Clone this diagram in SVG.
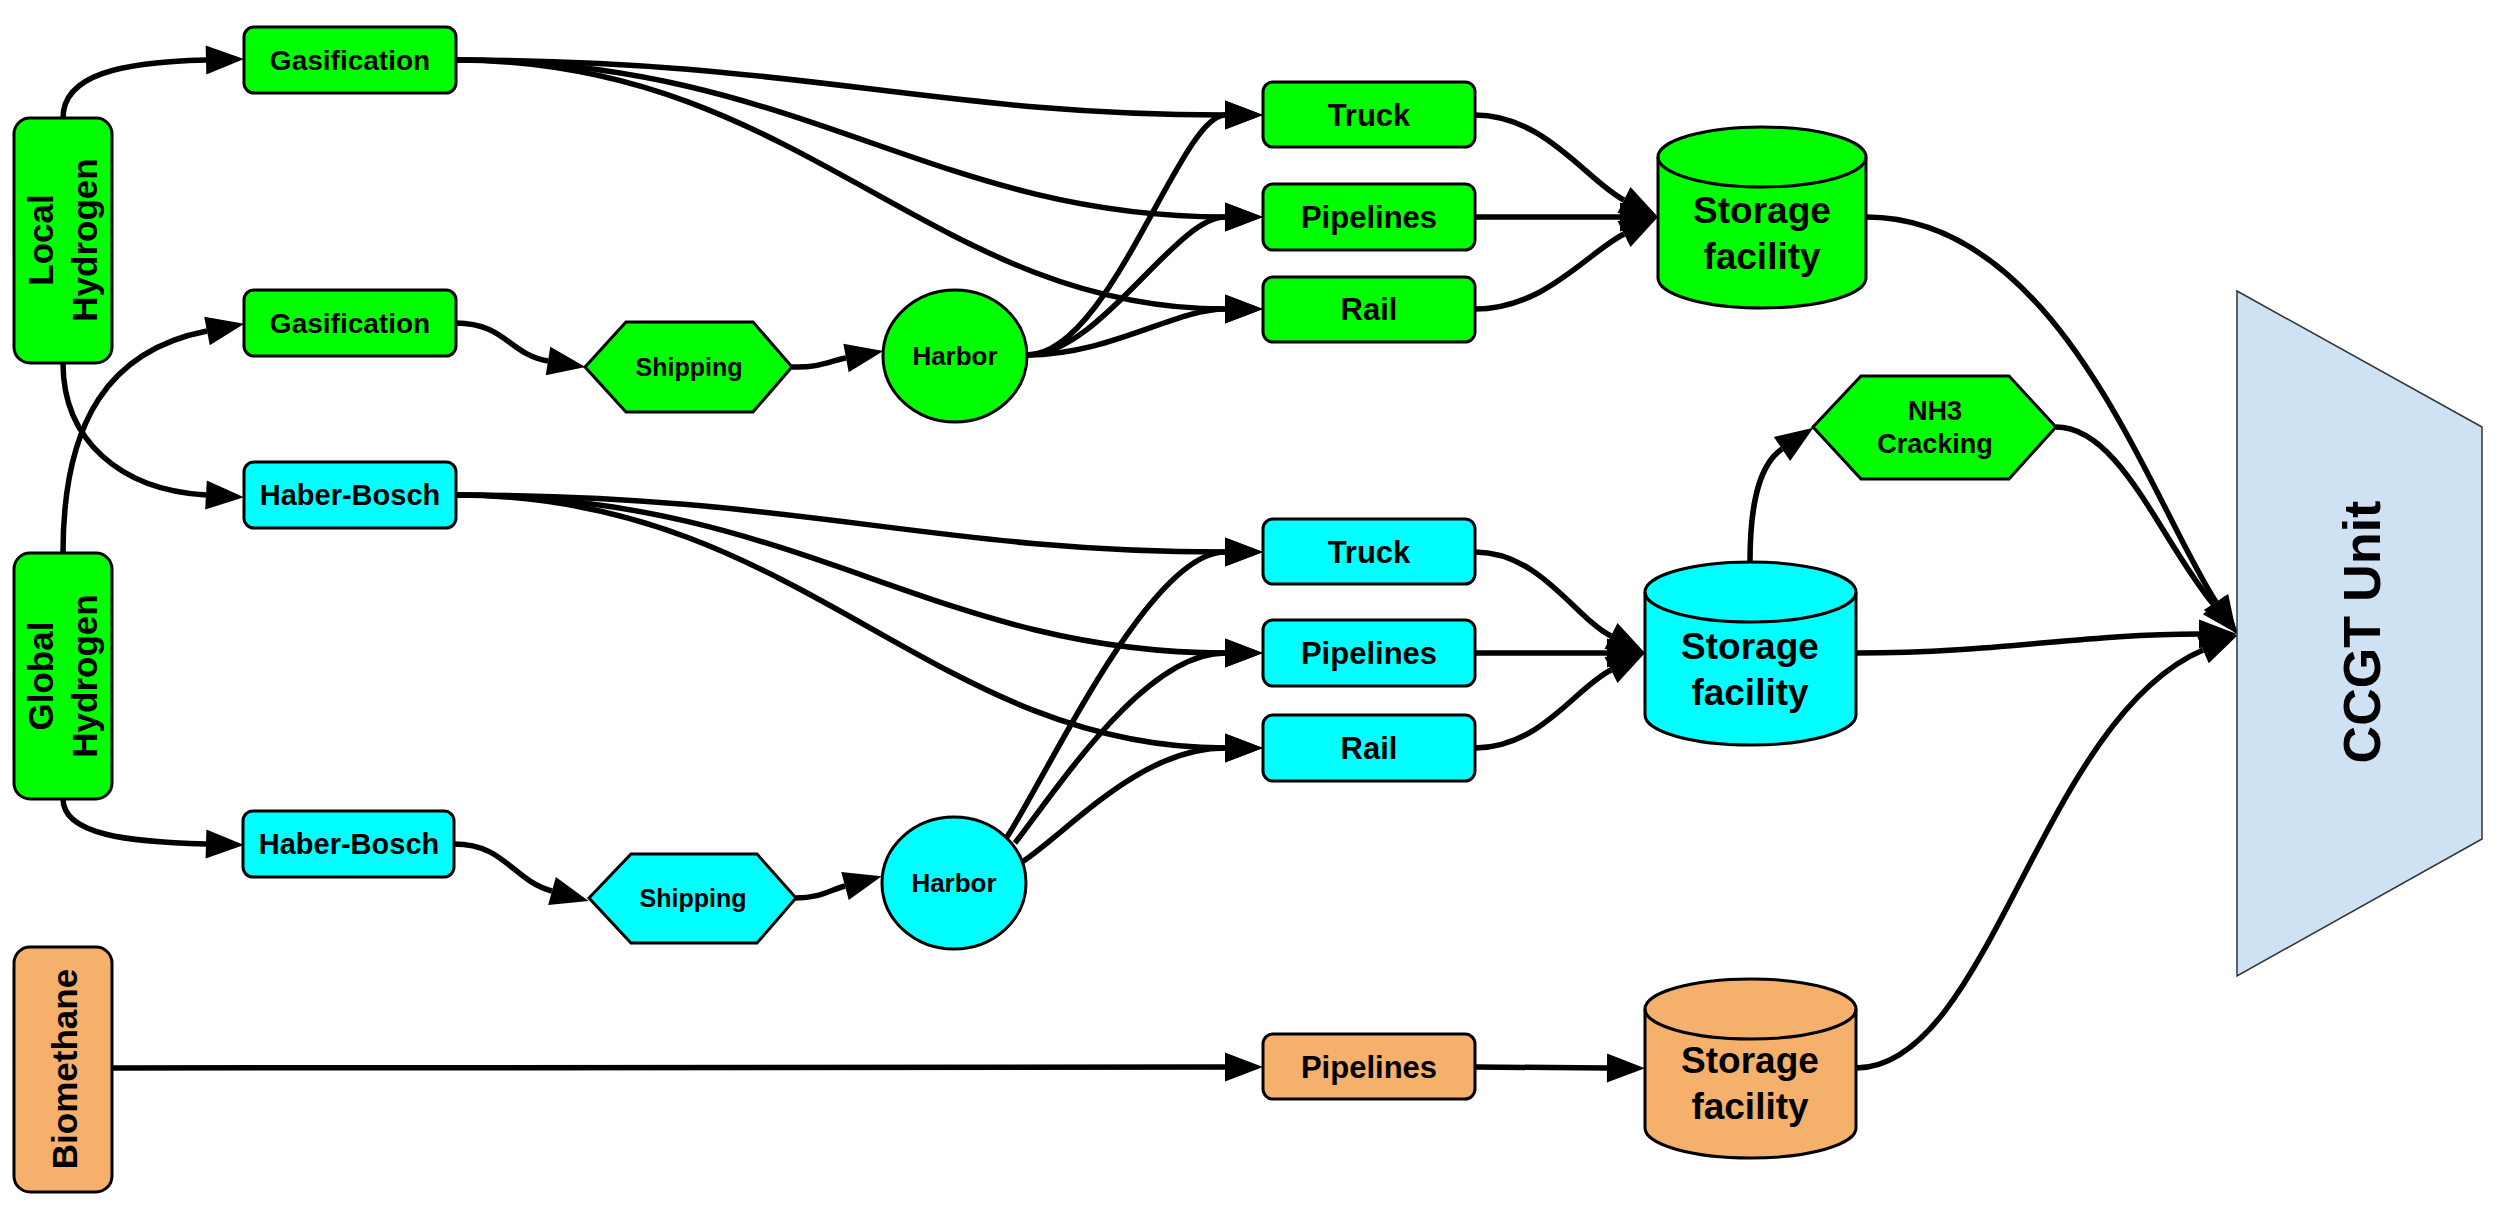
<svg xmlns="http://www.w3.org/2000/svg" width="2500" height="1220" viewBox="0 0 2500 1220">
<style>
  .g { fill: #00ff00; stroke: #000; stroke-width: 3; }
  .c { fill: #00ffff; stroke: #000; stroke-width: 3; }
  .o { fill: #f5b06b; stroke: #000; stroke-width: 3; }
  .ccgt { fill: #cfe2f3; stroke: #333; stroke-width: 1.5; }
  text { font-family: "Liberation Sans", Arial, sans-serif; font-weight: bold; fill: #000; text-anchor: middle; }
  .t28 { font-size: 28px; }
  .t29 { font-size: 29px; }
  .t31 { font-size: 31px; }
  .t25 { font-size: 25px; }
  .t26 { font-size: 26px; }
  .t27 { font-size: 27px; }
  .t35 { font-size: 35px; }
  .t37 { font-size: 37px; }
  .t52 { font-size: 52px; }
  .e { fill: none; stroke: #000; stroke-width: 5.5; marker-end: url(#ah); }
</style>
<defs>
  <marker id="ah" markerUnits="userSpaceOnUse" markerWidth="38" markerHeight="29" viewBox="0 0 38 29" refX="0" refY="14.5" orient="auto" overflow="visible">
    <path d="M0,0 L38,14.5 L0,29 Z" fill="#000"/>
  </marker>
</defs>
<rect width="2500" height="1220" fill="#fff"/>

<g id="connectors">
  <path class="e" d="M63,118 C63,75 120,62 206,60"/>
  <path class="e" d="M63,363 C63,440 120,490 206,495"/>
  <path class="e" d="M63,553 C63,420 110,350 207,331"/>
  <path class="e" d="M63,799 C63,835 130,842 206,844"/>
  <path class="e" d="M456,60 C800,60 930,115 1225,115"/>
  <path class="e" d="M456,60 C800,60 930,217 1225,217"/>
  <path class="e" d="M456,60 C800,60 930,309 1225,309"/>
  <path class="e" d="M1027,355 C1110,355 1180,115 1225,115"/>
  <path class="e" d="M1027,355 C1100,355 1175,217 1225,217"/>
  <path class="e" d="M1027,355 C1110,355 1175,309 1225,309"/>
  <path class="e" d="M456,495 C800,495 930,552 1225,552"/>
  <path class="e" d="M456,495 C800,495 930,653 1225,653"/>
  <path class="e" d="M456,495 C800,495 930,748 1225,748"/>
  <path class="e" d="M1007,837 C1050,770 1150,552 1225,552"/>
  <path class="e" d="M1015,843 C1060,785 1145,653 1225,653"/>
  <path class="e" d="M1022,862 C1070,830 1140,748 1225,748"/>
  <path class="e" d="M456,323 C505,323 510,355 548,361"/>
  <path class="e" d="M792,367 C820,368 830,361 846,358"/>
  <path class="e" d="M454,844 C505,844 512,880 552,891"/>
  <path class="e" d="M796,898 C820,898 830,890 845,886"/>
  <path class="e" d="M1475,115 C1545,115 1588,182 1624,200"/>
  <path class="e" d="M1475,217 L1620,217"/>
  <path class="e" d="M1475,309 C1545,309 1588,252 1624,234"/>
  <path class="e" d="M1475,552 C1540,552 1575,618 1611,636"/>
  <path class="e" d="M1475,653 L1607,653"/>
  <path class="e" d="M1475,748 C1540,748 1575,688 1611,670"/>
  <path class="e" d="M1475,1067 L1607,1068"/>
  <path class="e" d="M112,1068 L1225,1067"/>
  <path class="e" d="M1866,217 C2060,217 2150,500 2216,602"/>
  <path class="e" d="M2056,427 C2120,427 2160,540 2214,605"/>
  <path class="e" d="M1856,653 C2000,653 2080,634 2199,634"/>
  <path class="e" d="M1856,1068 C1990,1068 2040,720 2203,650"/>
  <path class="e" d="M1750,562 C1750,510 1757,466 1782,449"/>
</g>

<g id="local-hydrogen">
  <rect class="g" x="14" y="118" width="98" height="245" rx="16"/>
  <text class="t35" transform="translate(63,240) rotate(-90)"><tspan x="0" y="-10">Local</tspan><tspan x="0" y="34">Hydrogen</tspan></text>
</g>
<g id="global-hydrogen">
  <rect class="g" x="14" y="553" width="98" height="246" rx="16"/>
  <text class="t35" transform="translate(63,676) rotate(-90)"><tspan x="0" y="-10">Global</tspan><tspan x="0" y="34">Hydrogen</tspan></text>
</g>
<g id="biomethane">
  <rect class="o" x="14" y="947" width="98" height="245" rx="16"/>
  <text class="t35" transform="translate(63,1069) rotate(-90)" x="0" y="14">Biomethane</text>
</g>

<g id="gasification-1">
  <rect class="g" x="244" y="27" width="212" height="66" rx="10"/>
  <text class="t28" x="350" y="70">Gasification</text>
</g>
<g id="gasification-2">
  <rect class="g" x="244" y="290" width="212" height="66" rx="10"/>
  <text class="t28" x="350" y="333">Gasification</text>
</g>
<g id="haber-bosch-1">
  <rect class="c" x="244" y="462" width="212" height="66" rx="10"/>
  <text class="t29" x="350" y="505">Haber-Bosch</text>
</g>
<g id="haber-bosch-2">
  <rect class="c" x="243" y="811" width="211" height="66" rx="10"/>
  <text class="t29" x="349" y="854">Haber-Bosch</text>
</g>

<g id="shipping-1">
  <polygon class="g" points="585,367 626,322 753,322 792,367 753,412 626,412"/>
  <text class="t25" x="689" y="376">Shipping</text>
</g>
<g id="shipping-2">
  <polygon class="c" points="589,898 631,854 757,854 796,898 757,943 631,943"/>
  <text class="t25" x="693" y="907">Shipping</text>
</g>

<g id="harbor-1">
  <ellipse class="g" cx="955" cy="356" rx="72" ry="66"/>
  <text class="t26" x="955" y="365">Harbor</text>
</g>
<g id="harbor-2">
  <ellipse class="c" cx="954" cy="883" rx="72" ry="66"/>
  <text class="t26" x="954" y="892">Harbor</text>
</g>

<g id="truck-1">
  <rect class="g" x="1263" y="82" width="212" height="65" rx="10"/>
  <text class="t31" x="1369" y="126">Truck</text>
</g>
<g id="pipelines-1">
  <rect class="g" x="1263" y="184" width="212" height="66" rx="10"/>
  <text class="t31" x="1369" y="228">Pipelines</text>
</g>
<g id="rail-1">
  <rect class="g" x="1263" y="277" width="212" height="65" rx="10"/>
  <text class="t31" x="1369" y="320">Rail</text>
</g>
<g id="truck-2">
  <rect class="c" x="1263" y="519" width="212" height="65" rx="10"/>
  <text class="t31" x="1369" y="563">Truck</text>
</g>
<g id="pipelines-2">
  <rect class="c" x="1263" y="620" width="212" height="66" rx="10"/>
  <text class="t31" x="1369" y="664">Pipelines</text>
</g>
<g id="rail-2">
  <rect class="c" x="1263" y="715" width="212" height="66" rx="10"/>
  <text class="t31" x="1369" y="759">Rail</text>
</g>
<g id="pipelines-3">
  <rect class="o" x="1263" y="1034" width="212" height="65" rx="10"/>
  <text class="t31" x="1369" y="1078">Pipelines</text>
</g>

<g id="storage-green">
  <path class="g" d="M1658,157 A104,30 0 0 1 1866,157 L1866,278 A104,30 0 0 1 1658,278 Z"/>
  <path fill="none" stroke="#000" stroke-width="3" d="M1658,157 A104,30 0 0 0 1866,157"/>
  <text class="t37" x="1762" y="223">Storage</text>
  <text class="t37" x="1762" y="269">facility</text>
</g>
<g id="storage-cyan">
  <path class="c" d="M1645,592 A105.5,30 0 0 1 1856,592 L1856,715 A105.5,30 0 0 1 1645,715 Z"/>
  <path fill="none" stroke="#000" stroke-width="3" d="M1645,592 A105.5,30 0 0 0 1856,592"/>
  <text class="t37" x="1750" y="659">Storage</text>
  <text class="t37" x="1750" y="705">facility</text>
</g>
<g id="storage-orange">
  <path class="o" d="M1645,1009 A105.5,30 0 0 1 1856,1009 L1856,1128 A105.5,30 0 0 1 1645,1128 Z"/>
  <path fill="none" stroke="#000" stroke-width="3" d="M1645,1009 A105.5,30 0 0 0 1856,1009"/>
  <text class="t37" x="1750" y="1073">Storage</text>
  <text class="t37" x="1750" y="1119">facility</text>
</g>

<g id="nh3-cracking">
  <polygon class="g" points="1813,427 1861,376 2009,376 2056,427 2009,479 1861,479"/>
  <text class="t27" x="1935" y="420">NH3</text>
  <text class="t27" x="1935" y="453">Cracking</text>
</g>

<g id="ccgt-unit">
  <polygon class="ccgt" points="2237,291 2482,427 2482,839 2237,976"/>
  <text class="t52" transform="translate(2361,632) rotate(-90)" x="0" y="19">CCGT Unit</text>
</g>
</svg>
